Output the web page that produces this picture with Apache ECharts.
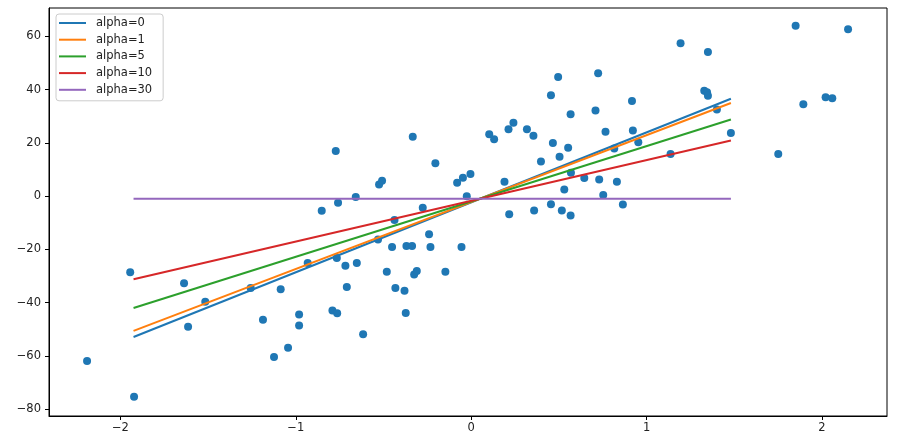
<!DOCTYPE html>
<html>
<head>
<meta charset="utf-8">
<script src="https://cdn.jsdelivr.net/npm/echarts@6/dist/echarts.min.js"></script>
<style>
  html, body { margin: 0; padding: 0; background: #fff; }
  #chart { width: 912px; height: 438px; }
</style>
</head>
<body>
<div id="chart"></div>
<script>
// scatter points
const pointX = [
  -2.19, -1.944, -1.922, -1.637, -1.614, -1.516, -1.257, -1.187, -1.124, -1.086,
  -1.044, -0.981, -0.981, -0.932, -0.852, -0.791, -0.772, -0.766, -0.764, -0.759,
  -0.717, -0.709, -0.658, -0.652, -0.616, -0.531, -0.525, -0.508, -0.481, -0.451,
  -0.437, -0.432, -0.38, -0.373, -0.369, -0.337, -0.333, -0.325, -0.31, -0.276,
  -0.24, -0.232, -0.204, -0.147, -0.08, -0.055, -0.047, -0.025, -0.004, 0.103,
  0.131, 0.19, 0.213, 0.217, 0.241, 0.318, 0.355, 0.359, 0.398, 0.455,
  0.455, 0.466, 0.496, 0.504, 0.517, 0.531, 0.553, 0.567, 0.567, 0.569,
  0.645, 0.709, 0.724, 0.73, 0.753, 0.766, 0.816, 0.831, 0.865, 0.917,
  0.922, 0.953, 1.137, 1.194, 1.329, 1.345, 1.35, 1.35, 1.401, 1.481,
  1.751, 1.85, 1.894, 2.021, 2.059, 2.149
];
const pointY = [
  -61.9, -28.6, -75.4, -32.7, -49.1, -39.7, -34.5, -46.4, -60.4, -35.0,
  -57.0, -44.5, -48.6, -25.1, -5.5, -43.0, 17.0, -23.2, -44.0, -2.5,
  -26.1, -34.1, -0.3, -25.1, -51.9, -16.3, 4.4, 5.8, -28.4, -19.1,
  -9.0, -34.5, -35.5, -43.9, -18.7, -18.7, 22.3, -29.4, -28.1, -4.4,
  -14.3, -19.1, 12.4, -28.4, 5.0, -19.1, 6.9, 0.0, 8.3, 23.3,
  21.4, 5.4, 25.1, -6.8, 27.6, 25.1, 22.7, -5.4, 13.0, -3.0,
  37.9, 20.0, 44.8, 14.8, -5.4, 2.5, 18.2, -7.3, 30.8, 8.8,
  6.8, 32.2, 46.2, 6.3, 0.4, 24.2, 17.9, 5.4, -3.1, 35.8,
  24.7, 20.3, 15.8, 57.5, 39.6, 39.0, 37.7, 54.2, 32.6, 23.7,
  15.8, 64.0, 34.5, 37.2, 36.8, 62.7
];

// fitted lines, one per alpha (ends)
const alphas = [0, 1, 5, 10, 30];
const lineX = [-1.925, 1.481];
const fitStart = [-52.9, -50.6, -42.0, -31.2, -1.0];
const fitEnd = [36.6, 35.0, 28.8, 20.9, -1.0];
const lineColors = ["#1f77b4", "#ff7f0e", "#2ca02c", "#d62728", "#9467bd"];

const xTicks = [-2, -1, 0, 1, 2];
const yTicks = [-80, -60, -40, -20, 0, 20, 40, 60];

const chart = echarts.init(document.getElementById("chart"));

const fmt = (v) => String(v).replace("-", "\u2212");
const font = "DejaVu Sans";

const series = [
  {
    type: "scatter",
    symbolSize: 8,
    itemStyle: { color: "#1f77b4", opacity: 1 },
    data: pointX.map((x, i) => [x, pointY[i]]),
    z: 2,
  },
];
alphas.forEach((a, i) => {
  series.push({
    name: "alpha=" + a,
    type: "line",
    symbol: "none",
    lineStyle: { color: lineColors[i], width: 2 },
    itemStyle: { color: lineColors[i] },
    data: [
      [lineX[0], fitStart[i]],
      [lineX[1], fitEnd[i]],
    ],
    z: 3,
  });
});

chart.setOption({
  animation: false,
  backgroundColor: "#fff",
  grid: {
    left: 49,
    right: 25,
    top: 8,
    bottom: 22,
    show: true,
    borderColor: "#000",
    borderWidth: 1,
  },
  legend: {
    data: alphas.map((a) => "alpha=" + a),
    orient: "vertical",
    left: 56,
    top: 14,
    icon: "path://M0,0 L27,0 L27,2 L0,2 Z",
    symbolKeepAspect: true,
    itemWidth: 27,
    itemHeight: 14,
    itemGap: 4.7,
    padding: [3, 11, 5, 3],
    backgroundColor: "rgba(255,255,255,0.8)",
    borderColor: "#cccccc",
    borderWidth: 1,
    borderRadius: 3,
    textStyle: {
      fontFamily: font,
      fontSize: 11.5,
      color: "#222",
      padding: [0, 0, 0, 5],
    },
  },
  xAxis: {
    type: "value",
    min: -2.407,
    max: 2.371,
    axisLine: { show: true, onZero: false, lineStyle: { color: "#000" } },
    axisTick: {
      show: true,
      length: 4,
      customValues: xTicks,
      lineStyle: { color: "#000" },
    },
    axisLabel: {
      customValues: xTicks,
      formatter: fmt,
      margin: 6,
      fontFamily: font,
      fontSize: 11.5,
      color: "#222",
    },
    splitLine: { show: false },
  },
  yAxis: {
    type: "value",
    min: -82.6,
    max: 70.7,
    axisLine: { show: true, onZero: false, lineStyle: { color: "#000" } },
    axisTick: {
      show: true,
      length: 4,
      customValues: yTicks,
      lineStyle: { color: "#000" },
    },
    axisLabel: {
      customValues: yTicks,
      formatter: fmt,
      margin: 8,
      fontFamily: font,
      fontSize: 11.5,
      color: "#222",
    },
    splitLine: { show: false },
  },
  series,
});
</script>
</body>
</html>
